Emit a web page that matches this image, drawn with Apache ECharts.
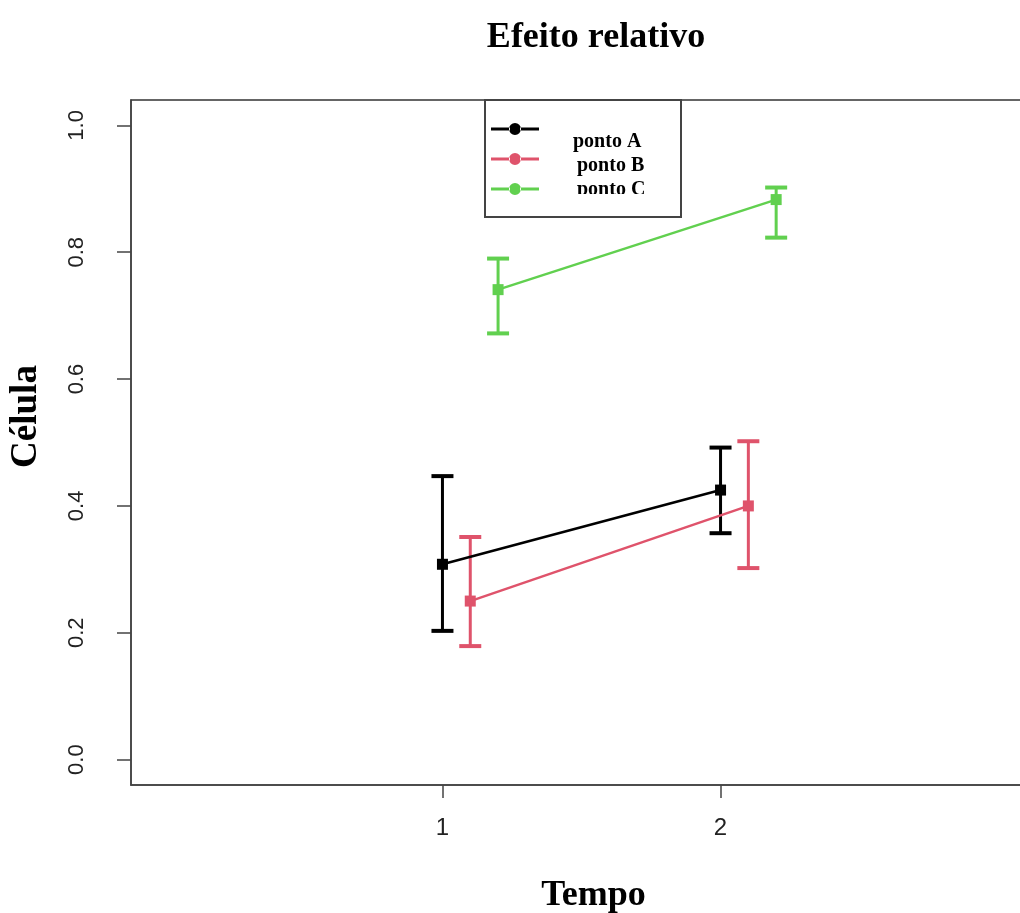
<!DOCTYPE html>
<html>
<head>
<meta charset="utf-8">
<script src="https://cdn.jsdelivr.net/npm/echarts@6/dist/echarts.min.js"></script>
<style>
  html, body { margin: 0; padding: 0; background: #fff; }
  #chart { width: 1020px; height: 913px; }
</style>
</head>
<body>
<div id="chart"></div>
<script>
// dados
var nomes = ['ponto A', 'ponto B', 'ponto C'];
var cores = ['#000000', '#DF536B', '#61D04F'];
var tempoA = [1, 2];
var tempoB = [1.1, 2.1];
var tempoC = [1.2, 2.2];
var mediaA = [0.308, 0.425];
var mediaB = [0.250, 0.400];
var mediaC = [0.741, 0.883];
var infA = [0.203, 0.357];
var supA = [0.447, 0.492];
var infB = [0.179, 0.302];
var supB = [0.351, 0.502];
var infC = [0.672, 0.823];
var supC = [0.790, 0.902];
var ticksX = [1, 2];
var ticksY = [0, 0.2, 0.4, 0.6, 0.8, 1.0];

var myChart = echarts.init(document.getElementById('chart'));

function pares(xs, ys) {
    return xs.map(function (x, i) { return [x, ys[i]]; });
}
function barras(xs, lo, hi) {
    return xs.map(function (x, i) { return [x, lo[i], hi[i]]; });
}

// barra de erro com "chapéus"
function renderErro(params, api) {
    var x = api.value(0);
    var a = api.coord([x, api.value(1)]);
    var b = api.coord([x, api.value(2)]);
    var w = 11;
    var cor = api.visual('color');
    var st = { stroke: cor, lineWidth: 3 };
    var stCap = { stroke: cor, lineWidth: 4 };
    return {
        type: 'group',
        children: [
            { type: 'line', shape: { x1: a[0], y1: a[1], x2: b[0], y2: b[1] }, style: st },
            { type: 'line', shape: { x1: a[0] - w, y1: a[1], x2: a[0] + w, y2: a[1] }, style: stCap },
            { type: 'line', shape: { x1: b[0] - w, y1: b[1], x2: b[0] + w, y2: b[1] }, style: stCap }
        ]
    };
}

var medias = [pares(tempoA, mediaA), pares(tempoB, mediaB), pares(tempoC, mediaC)];
var erros = [barras(tempoA, infA, supA), barras(tempoB, infB, supB), barras(tempoC, infC, supC)];

var series = [];
nomes.forEach(function (n, i) {
    series.push({
        name: n + ' erro',
        type: 'custom',
        renderItem: renderErro,
        itemStyle: { color: cores[i] },
        data: erros[i],
        z: 2
    });
});
nomes.forEach(function (n, i) {
    series.push({
        name: n,
        type: 'line',
        data: medias[i],
        symbol: 'rect',
        symbolSize: 11,
        itemStyle: { color: cores[i] },
        lineStyle: { color: cores[i], width: 2.5 },
        z: 3
    });
});

// ícone da legenda: linha com círculo
var icone = 'path://M0,4.5h19v3h-19z M29,4.5h19v3h-19z M18,6a6,6 0 1,0 12,0a6,6 0 1,0 -12,0z';

var option = {
    backgroundColor: '#fff',
    animation: false,
    title: {
        text: 'Efeito relativo',
        left: 591,
        top: 15,
        textAlign: 'center',
        textStyle: { fontFamily: 'Liberation Serif', fontWeight: 'bold', fontSize: 36, color: '#000' }
    },
    grid: {
        left: 131,
        top: 100,
        right: -12,
        bottom: 128,
        outerBoundsMode: 'none',
        containLabel: false,
        show: true,
        borderColor: '#333',
        borderWidth: 1.5,
        backgroundColor: 'transparent'
    },
    legend: {
        orient: 'vertical',
        left: 491,
        top: 123,
        padding: 0,
        itemWidth: 48,
        itemHeight: 12,
        itemGap: 18,
        formatter: function () { return ''; },
        textStyle: { fontSize: 10, lineHeight: 12 },
        selectedMode: false,
        data: nomes.map(function (n) { return { name: n, icon: icone }; })
    },
    xAxis: {
        type: 'value',
        min: -0.12,
        max: 3.12,
        name: 'Tempo',
        nameLocation: 'middle',
        nameGap: 93,
        nameTextStyle: { fontFamily: 'Liberation Serif', fontWeight: 'bold', fontSize: 36, color: '#000', padding: [0, 0, 0, 24] },
        axisLine: { show: true, onZero: false, lineStyle: { color: '#444', width: 1.5 } },
        axisTick: { show: true, length: 13, customValues: ticksX, lineStyle: { color: '#444', width: 1.5 } },
        axisLabel: { customValues: ticksX, margin: 31, fontFamily: 'Liberation Sans', fontSize: 24, color: '#222' },
        splitLine: { show: false }
    },
    yAxis: {
        type: 'value',
        min: -0.04,
        max: 1.04,
        name: 'Célula',
        nameLocation: 'middle',
        nameGap: 86,
        nameRotate: 90,
        nameTextStyle: { fontFamily: 'Liberation Serif', fontWeight: 'bold', fontSize: 37, color: '#000', padding: [0, 0, 0, 52] },
        axisLine: { show: true, onZero: false, lineStyle: { color: '#444', width: 1.5 } },
        axisTick: { show: true, length: 14, customValues: ticksY, lineStyle: { color: '#444', width: 1.5 } },
        axisLabel: {
            customValues: ticksY,
            rotate: 90,
            margin: 43,
            fontFamily: 'Liberation Sans',
            fontSize: 22,
            color: '#222',
            formatter: function (v) { return v.toFixed(1); }
        },
        splitLine: { show: false }
    },
    graphic: [
        {
            type: 'rect',
            shape: { x: 485, y: 100, width: 196, height: 117 },
            style: { fill: 'none', stroke: '#444', lineWidth: 2 },
            z: 10
        },
        {
            type: 'text', left: 573, top: 132,
            style: { text: 'ponto A', font: 'bold 20px "Liberation Serif"', fill: '#000' }, z: 11
        },
        {
            type: 'text', left: 577, top: 156,
            style: { text: 'ponto B', font: 'bold 20px "Liberation Serif"', fill: '#000' }, z: 11
        },
        {
            type: 'text', left: 577, top: 180,
            style: { text: 'ponto C', font: 'bold 20px "Liberation Serif"', fill: '#000' }, z: 11
        },
        {
            // texto "ponto C" cortado como no original
            type: 'rect',
            shape: { x: 560, y: 194, width: 110, height: 20 },
            style: { fill: '#fff' },
            z: 12
        }
    ],
    series: series
};

myChart.setOption(option);
</script>
</body>
</html>
